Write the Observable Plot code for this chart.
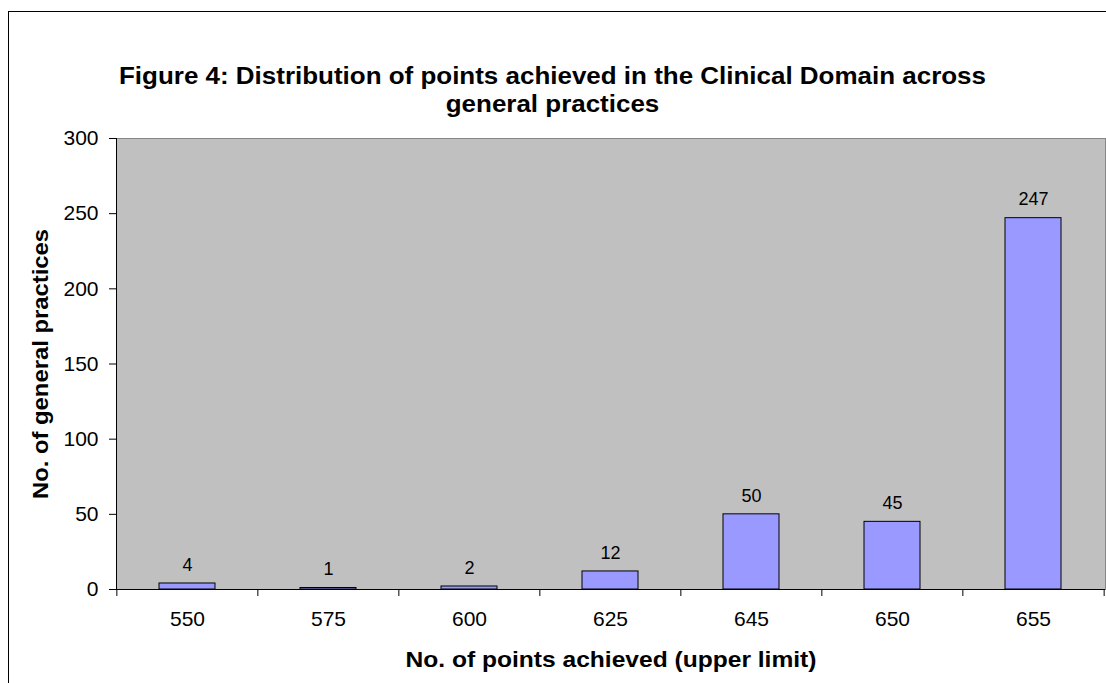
<!DOCTYPE html>
<html>
<head>
<meta charset="utf-8">
<script src="https://cdn.jsdelivr.net/npm/d3@7"></script>
<script src="https://cdn.jsdelivr.net/npm/@observablehq/plot@0.6"></script>
<style>
  html, body { margin: 0; padding: 0; background: #fff; }
  #wrap { position: relative; width: 1106px; height: 683px; overflow: hidden; }
  #wrap svg { display: block; }
  #outer { position: absolute; left: 8px; top: 11px; width: 1200px; height: 800px;
           border-left: 1px solid #000; border-top: 1px solid #000; pointer-events: none; }
</style>
</head>
<body>
<div id="wrap"><div id="outer"></div></div>
<script>
const categories = ["550", "575", "600", "625", "645", "650", "655"];
const counts = [4, 1, 2, 12, 50, 45, 247];
const yTicks = [0, 50, 100, 150, 200, 250, 300];
const titleLine1 = "Figure 4: Distribution of points achieved in the Clinical Domain across";
const titleLine2 = "general practices";
const xLabel = "No. of points achieved (upper limit)";
const yLabel = "No. of general practices";

const data = categories.map((c, i) => ({cat: c, value: counts[i]}));

const W = 1106, H = 683;
const mL = 116, mR = 1, mT = 138, mB = 94;
const step = (W - mL - mR) / categories.length;
const plotH = H - mT - mB;
const plotCx = mL + (W - mL - mR) / 2;
const titleCx = 552;
const font = "'Liberation Sans', Arial, sans-serif";

const chart = Plot.plot({
  width: W,
  height: H,
  marginLeft: mL,
  marginRight: mR,
  marginTop: mT,
  marginBottom: mB,
  style: {fontFamily: font, color: "#000", background: "#fff"},
  x: {type: "band", domain: categories, paddingInner: 0.6, paddingOuter: 0.3, align: 0.5},
  y: {domain: [0, 300]},
  marks: [
    Plot.frame({fill: "#c0c0c0", stroke: "#868686"}),
    Plot.barY(data, {x: "cat", y: "value", fill: "#9999ff", stroke: "#000", strokeWidth: 1}),
    Plot.text(data, {x: "cat", y: "value", text: d => String(d.value), dy: -18.5, lineAnchor: "middle", fontSize: 18, fill: "#000"}),
    Plot.frame({anchor: "left", stroke: "#000"}),
    Plot.ruleY([0], {stroke: "#000"}),
    Plot.axisY({ticks: yTicks, tickSize: 7, tickPadding: 11, fontSize: 21, label: null, stroke: "#000"}),
    Plot.axisX({tickSize: 0, tickPadding: 22, fontSize: 21, label: null}),
    Plot.ruleX(categories, {dx: -step / 2, insetTop: plotH, insetBottom: -7, stroke: "#000"}),
    Plot.ruleX(categories.slice(-1), {dx: step / 2, insetTop: plotH, insetBottom: -7, stroke: "#000"}),
    Plot.text([xLabel], {frameAnchor: "bottom", lineAnchor: "middle", dy: 70, fontSize: 22, fontWeight: "bold", fill: "#000"}),
    Plot.text([yLabel], {frameAnchor: "left", textAnchor: "middle", lineAnchor: "middle", dx: -76, rotate: -90, fontSize: 22, fontWeight: "bold", fill: "#000"}),
    Plot.text([titleLine1], {frameAnchor: "top", lineAnchor: "middle", dx: titleCx - plotCx, dy: 76 - mT, fontSize: 23, fontWeight: "bold", fill: "#000"}),
    Plot.text([titleLine2], {frameAnchor: "top", lineAnchor: "middle", dx: titleCx - plotCx, dy: 104 - mT, fontSize: 23, fontWeight: "bold", fill: "#000"})
  ]
});
document.getElementById("wrap").prepend(chart);

// Reference text is set in a horizontally wider face; stretch the glyphs to the measured widths.
const texts = Array.from(chart.querySelectorAll("text"));
const find = s => texts.find(t => t.textContent === s);
function stretch(el, target) {
  if (!el) return;
  el.setAttribute("textLength", target);
  el.setAttribute("lengthAdjust", "spacingAndGlyphs");
}
const t1 = find(titleLine1), t2 = find(titleLine2);
if (t1 && t2) {
  const ratio = 867 / t1.getComputedTextLength();
  const w2 = t2.getComputedTextLength() * ratio;
  stretch(t1, 867);
  stretch(t2, w2);
}
stretch(find(xLabel), 411);
stretch(find(yLabel), 270);
</script>
</body>
</html>
